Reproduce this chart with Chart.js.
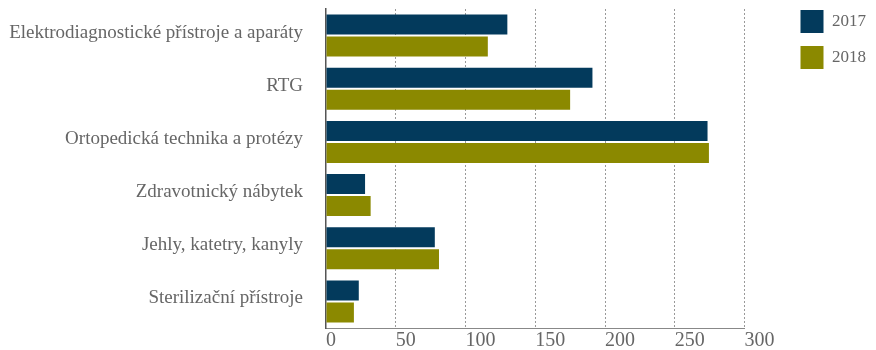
<!DOCTYPE html>
<html lang="cs">
<head>
    <meta charset="UTF-8">
    <title>Zdravotnické prostředky 2017–2018</title>
    <script src="https://cdn.jsdelivr.net/npm/chart.js@4"></script>
    <style>
        html, body { margin: 0; padding: 0; background: #fff; }
        .chart-box { width: 876px; height: 350px; }
    </style>
</head>
<body>
    <div class="chart-box">
        <canvas id="prodChart"></canvas>
    </div>

    <script>
        const categories = [
            "Elektrodiagnostické přístroje a aparáty",
            "RTG",
            "Ortopedická technika a protézy",
            "Zdravotnický nábytek",
            "Jehly, katetry, kanyly",
            "Sterilizační přístroje"
        ];
        const years = ["2017", "2018"];
        const values2017 = [130, 191, 273.5, 28, 78, 23.5];
        const values2018 = [116, 175, 274.5, 32, 81, 20];
        const xTicks = [0, 50, 100, 150, 200, 250, 300];

        const navy = "#033a5c";
        const olive = "#8b8900";
        const textGrey = "#666666";
        const serif = "'Liberation Serif', 'Times New Roman', serif";

        const ctx = document.getElementById("prodChart").getContext("2d");
        const chart = new Chart(ctx, {
            type: "bar",
            data: {
                labels: categories,
                datasets: [
                    { label: years[0], data: values2017, backgroundColor: navy },
                    { label: years[1], data: values2018, backgroundColor: olive }
                ]
            },
            options: {
                indexAxis: "y",
                responsive: true,
                maintainAspectRatio: false,
                animation: false,
                categoryPercentage: 0.828,
                barPercentage: 0.909,
                // legend sits a little higher than the plot top
                layout: { padding: { top: -3, right: 0, bottom: 0, left: 0 } },
                plugins: {
                    tooltip: { enabled: false },
                    legend: {
                        position: "right",
                        align: "start",
                        labels: {
                            boxWidth: 23,
                            boxHeight: 23,
                            padding: 13,
                            color: textGrey,
                            font: { family: serif, size: 17 }
                        }
                    }
                },
                scales: {
                    x: {
                        type: "linear",
                        position: "bottom",
                        min: 0,
                        max: 300,
                        afterBuildTicks: s => { s.ticks = xTicks.map(v => ({ value: v })); },
                        afterFit: s => { s.height = 22; },
                        grid: {
                            drawTicks: false,
                            color: c => c.tick && c.tick.value === 0 ? "rgba(0,0,0,0)" : "#999999",
                            lineWidth: 1
                        },
                        border: { display: true, color: "#888", width: 1, dash: [2, 2] },
                        ticks: {
                            align: "start",
                            padding: 1,
                            color: textGrey,
                            font: { family: serif, size: 20 }
                        }
                    },
                    y: {
                        type: "category",
                        position: "left",
                        // fixed label column; no extra room above/below the bars
                        afterFit: s => {
                            s.width = 326;
                            s.paddingTop = 0;
                            s.paddingBottom = 0;
                        },
                        grid: { display: false, drawTicks: false },
                        border: { display: true, color: "#555", width: 1.5 },
                        ticks: {
                            padding: 23,
                            labelOffset: -3,
                            color: textGrey,
                            font: { family: serif, size: 19 }
                        }
                    },
                    // empty spacer axes that hold the plot area away from the top edge and the legend
                    padTop: {
                        type: "linear",
                        axis: "x",
                        position: "top",
                        afterFit: s => { s.height = 12; },
                        grid: { display: false },
                        border: { display: false },
                        ticks: { display: false }
                    },
                    padRight: {
                        type: "linear",
                        axis: "y",
                        position: "right",
                        afterFit: s => { s.width = 43; },
                        grid: { display: false },
                        border: { display: false },
                        ticks: { display: false }
                    }
                }
            }
        });
    </script>
</body>
</html>
